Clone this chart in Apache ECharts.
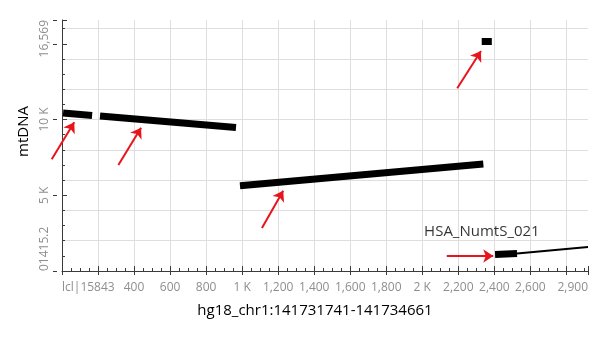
<!DOCTYPE html>
<html><head><meta charset="utf-8">
<script src="https://cdn.jsdelivr.net/npm/echarts@6/dist/echarts.min.js"></script>
<style>html,body{margin:0;padding:0;background:#fff}#c{width:600px;height:337px}</style>
</head><body><div id="c"></div>
<script>
// ---- data ----
const xRange = [0, 2920];
const yRange = [0, 16569];
const xTickLabels = {0:'lcl|15843', 200:'', 1000:'1 K', 2000:'2 K', 2800:'', 2920:'2,900'};
const yTickLabels = {0:'01415.2', 5000:'5 K', 10000:'10 K', 15000:'', 16569:'16,569'};
// thick alignment blocks: [x (hg18 offset), y (mtDNA position)]
const block1a = [[6,10430],[167,10271]];
const block1b = [[211,10225],[966,9473]];
const block2 = [[988,5631],[2339,7063]];
const block3 = [[2330,15150],[2386,15150]];
const block4 = [[2404,1089],[2526,1155]];
const thinLine = [[2526,1155],[2920,1584]];
const arrows = [
  [[-57,7373],[68,9816]],
  [[313,6997],[439,9459]],
  [[1110,2838],[1228,5301]],
  [[2194,12060],[2326,14522]],
  [[2136,990],[2394,990]]
];
const annotation = {text:'HSA_NumtS_021', x:2331, y:2574};
const xName = 'hg18_chr1:141731741-141734661';
const yName = 'mtDNA';

// ---- chart ----
const axisColor = '#3a3a3a';
const labelColor = '#8e8e8e';
const gridColor = '#dedede';
const font = 'Open Sans';

const thickBlocks = [block1a, block1b, block2, block3, block4];
const series = thickBlocks.map(b => ({
  type:'line', data:b, symbol:'none', xAxisIndex:0, yAxisIndex:0,
  lineStyle:{color:'#000', width:7, cap:'butt'}, z:3, animation:false
}));
series.push({type:'line', data:thinLine, symbol:'none', xAxisIndex:0, yAxisIndex:0,
  lineStyle:{color:'#000', width:2}, z:3, animation:false});
series.push({type:'lines', coordinateSystem:'cartesian2d', xAxisIndex:0, yAxisIndex:0,
  clip:false, symbol:['none','arrow'], symbolSize:10, z:4, animation:false,
  lineStyle:{color:'#e8141c', width:2, opacity:1, curveness:0},
  data: arrows.map(a => ({coords:a}))});
series.push({type:'scatter', xAxisIndex:0, yAxisIndex:0, symbolSize:0, animation:false,
  data:[[annotation.x, annotation.y]],
  label:{show:true, position:'inside', formatter:annotation.text, fontSize:15, color:'#000', fontFamily:font}});

const option = {
  animation:false,
  backgroundColor:'#fff',
  grid:{left:62, right:12, top:20, bottom:66, containLabel:false},
  xAxis:[{
    type:'value', min:xRange[0], max:xRange[1], interval:200, position:'bottom', offset:6,
    axisLine:{show:true, lineStyle:{color:axisColor, width:1}},
    axisTick:{show:true, inside:true, length:5, lineStyle:{color:axisColor}},
    minorTick:{show:true, splitNumber:4, length:3, lineStyle:{color:axisColor}},
    axisLabel:{show:true, interval:0, hideOverlap:false, margin:5, fontSize:12, color:labelColor, fontFamily:font,
      alignMinLabel:'left', alignMaxLabel:'right', showMinLabel:true, showMaxLabel:true,
      formatter:v => (v in xTickLabels) ? xTickLabels[v] : v.toLocaleString('en-US')},
    splitLine:{show:true, showMinLine:false, showMaxLine:false, lineStyle:{color:gridColor, width:1}},
    name:xName, nameLocation:'middle', nameGap:26,
    nameTextStyle:{fontSize:15, color:'#000', fontFamily:font, padding:[0,20,0,0]}
  },{
    type:'value', min:xRange[0], max:xRange[1], interval:200, position:'bottom', offset:6,
    axisLine:{show:false}, axisTick:{show:true, inside:false, length:4, lineStyle:{color:axisColor}},
    axisLabel:{show:false}, splitLine:{show:false}
  }],
  yAxis:[{
    type:'value', min:yRange[0], max:yRange[1], interval:5000, position:'left', offset:5,
    axisLine:{show:true, lineStyle:{color:axisColor, width:1}},
    axisTick:{show:true, inside:true, length:5, lineStyle:{color:axisColor}},
    minorTick:{show:true, splitNumber:5, length:3, lineStyle:{color:axisColor}},
    axisLabel:{show:true, rotate:90, interval:0, hideOverlap:false, margin:6, fontSize:12, color:labelColor, fontFamily:font,
      alignMinLabel:'left', alignMaxLabel:'right', showMinLabel:true, showMaxLabel:true,
      formatter:v => (v in yTickLabels) ? yTickLabels[v] : v.toLocaleString('en-US')},
    splitLine:{show:false},
    name:yName, nameLocation:'middle', nameGap:24,
    nameTextStyle:{fontSize:15, color:'#000', fontFamily:font, padding:[0,0,0,28]}
  },{
    type:'value', min:yRange[0], max:yRange[1], interval:2000, position:'left',
    axisLine:{show:false}, axisTick:{show:false}, axisLabel:{show:false},
    splitLine:{show:true, showMinLine:false, showMaxLine:false, lineStyle:{color:gridColor, width:1}}
  },{
    type:'value', min:yRange[0], max:yRange[1], interval:5000, position:'left', offset:5,
    axisLine:{show:false}, axisTick:{show:true, inside:false, length:4, lineStyle:{color:axisColor}},
    axisLabel:{show:false}, splitLine:{show:false}
  }],
  series:series
};
const chart = echarts.init(document.getElementById('c'), null, {renderer:'canvas'});
chart.setOption(option);
</script>
</body></html>
